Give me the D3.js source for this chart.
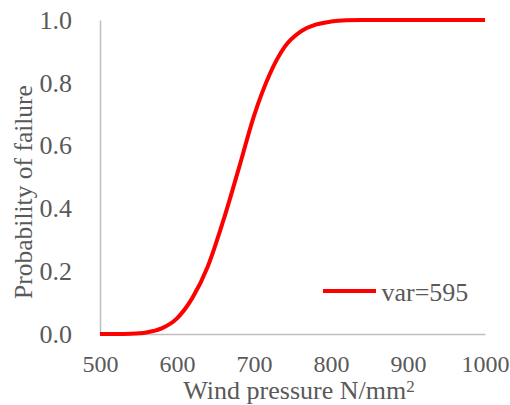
<!DOCTYPE html>
<html>
<head>
<meta charset="utf-8">
<script src="https://cdn.jsdelivr.net/npm/d3@7"></script>
<style>
  body { margin: 0; background: #fff; }
</style>
</head>
<body>
<div class="chart"></div>
<script>
// wind pressure (N/mm2) and probability of failure
const pressure = [500, 520, 540, 560, 580, 600, 620, 640, 660, 680, 700, 720, 740, 760, 780, 800, 820, 840, 860, 880, 900, 920, 940, 960, 980, 1000];
const probability = [0, 0.000, 0.001, 0.005, 0.018, 0.05, 0.115, 0.215, 0.36, 0.525, 0.695, 0.825, 0.915, 0.962, 0.985, 0.995, 0.999, 1, 1, 1, 1, 1, 1, 1, 1, 1];
const xTicks = [500, 600, 700, 800, 900, 1000];
const yTicks = [0, 0.2, 0.4, 0.6, 0.8, 1.0];
const seriesName = 'var=595';

const W = 510, H = 405;
const margin = { left: 100, right: 25, top: 20, bottom: 71 };
const FONT = '"Liberation Serif", "Times New Roman", serif';
const GREY = '#595959';

const svg = d3.select('.chart')
  .append('svg')
  .attr('width', W)
  .attr('height', H)
  .attr('font-family', FONT);

const x = d3.scaleLinear().domain([500, 1000]).range([margin.left, W - margin.right]);
const y = d3.scaleLinear().domain([0, 1]).range([H - margin.bottom, margin.top]);

// axes
const xAxis = svg.append('g')
  .attr('transform', `translate(0,${y(0)})`)
  .call(d3.axisBottom(x).tickValues(xTicks).tickSize(0).tickPadding(20.5).tickFormat(d3.format('d')));
const yAxis = svg.append('g')
  .attr('transform', `translate(${x(500)},0)`)
  .call(d3.axisLeft(y).tickValues(yTicks).tickSize(0).tickPadding(28).tickFormat(d3.format('.1f')));

[xAxis, yAxis].forEach(a => {
  a.attr('font-family', FONT);
  a.select('.domain').attr('stroke', '#bfbfbf').attr('stroke-width', 1.5);
  a.selectAll('text').attr('fill', GREY);
});
xAxis.attr('font-size', 24);
yAxis.attr('font-size', 26);
xAxis.selectAll('text').attr('dy', '0.71em');

// curve
const line = d3.line()
  .x((d, i) => x(pressure[i]))
  .y(d => y(d))
  .curve(d3.curveMonotoneX);

svg.append('path')
  .datum(probability)
  .attr('d', line)
  .attr('fill', 'none')
  .attr('stroke', '#ff0000')
  .attr('stroke-width', 4)
  .attr('stroke-linejoin', 'round');

// legend
svg.append('line')
  .attr('x1', 323).attr('x2', 376)
  .attr('y1', 291).attr('y2', 291)
  .attr('stroke', '#ff0000')
  .attr('stroke-width', 4);
svg.append('text')
  .attr('x', 381.5).attr('y', 301)
  .attr('font-family', FONT)
  .attr('font-size', 26)
  .attr('fill', GREY)
  .text(seriesName);

// axis titles
const xTitle = svg.append('text')
  .attr('x', 299).attr('y', 399)
  .attr('text-anchor', 'middle')
  .attr('font-family', FONT)
  .attr('font-size', 26)
  .attr('fill', GREY);
xTitle.append('tspan').text('Wind pressure N/mm');
xTitle.append('tspan').attr('dy', -7).attr('font-size', 17).text('2');

svg.append('text')
  .attr('transform', 'translate(32,192) rotate(-90)')
  .attr('text-anchor', 'middle')
  .attr('font-family', FONT)
  .attr('font-size', 25.5)
  .attr('fill', GREY)
  .text('Probability of failure');
</script>
</body>
</html>
